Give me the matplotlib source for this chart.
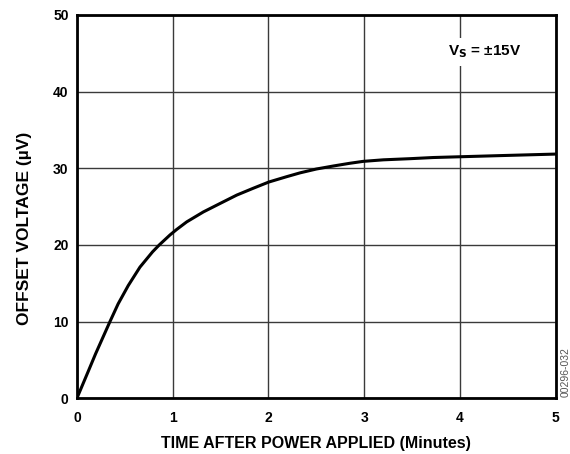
import numpy as np
import matplotlib
matplotlib.use("Agg")
import matplotlib.pyplot as plt

# offset voltage warm-up drift
time_min = [0, 0.118, 0.195, 0.345, 0.43, 0.536, 0.658, 0.79, 0.86, 0.972, 1.04, 1.146, 1.32,
            1.494, 1.669, 1.843, 2.003, 2.19, 2.33, 2.5, 2.68, 2.85, 2.99, 3.2, 3.48, 3.72,
            4.0, 4.42, 5.0]
offset_uv = [0, 3.5, 5.8, 10.0, 12.3, 14.7, 17.1, 19.1, 20.0, 21.3, 22.0, 23.0, 24.3,
             25.4, 26.5, 27.4, 28.2, 28.9, 29.4, 29.9, 30.3, 30.65, 30.9, 31.1, 31.25, 31.4,
             31.5, 31.65, 31.85]

plt.rcParams['font.family'] = ['Liberation Sans', 'DejaVu Sans']
plt.rcParams['font.weight'] = 'bold'

fig = plt.figure(figsize=(5.7, 4.54), dpi=100)
ax = fig.add_axes([0.135, 0.123, 0.84, 0.844])

ax.plot(time_min, offset_uv, color='black', linewidth=2.2, solid_capstyle='round',
        solid_joinstyle='round')

ax.set_xlim(0, 5)
ax.set_ylim(0, 50)
ax.set_xticks(range(0, 6))
ax.set_yticks(range(0, 51, 10))
ax.grid(True, color='#3a3a3a', linewidth=1.0)
ax.tick_params(axis='y', length=0, pad=6, labelsize=10)
ax.tick_params(axis='x', length=0, pad=9, labelsize=10)
for lab in ax.get_xticklabels() + ax.get_yticklabels():
    lab.set_fontweight('bold')
for s in ax.spines.values():
    s.set_linewidth(2)

ax.set_xlabel('TIME AFTER POWER APPLIED (Minutes)', fontsize=11.5, fontweight='bold', labelpad=8)
ax.set_ylabel('OFFSET VOLTAGE (µV)', fontsize=12.5, fontweight='bold')
ax.yaxis.set_label_coords(-0.093, 0.444)

ax.text(4.26, 45.2, r'V$_\mathbf{S}$ = ±15V', fontsize=11, fontweight='bold', ha='center', va='center',
        bbox=dict(facecolor='white', edgecolor='none', pad=4))

fig.text(0.993, 0.181, '00296-032', rotation=90, fontsize=7.5, color='#555555',
         fontweight='normal', ha='center', va='center')

fig.savefig('out.png', dpi=100)
